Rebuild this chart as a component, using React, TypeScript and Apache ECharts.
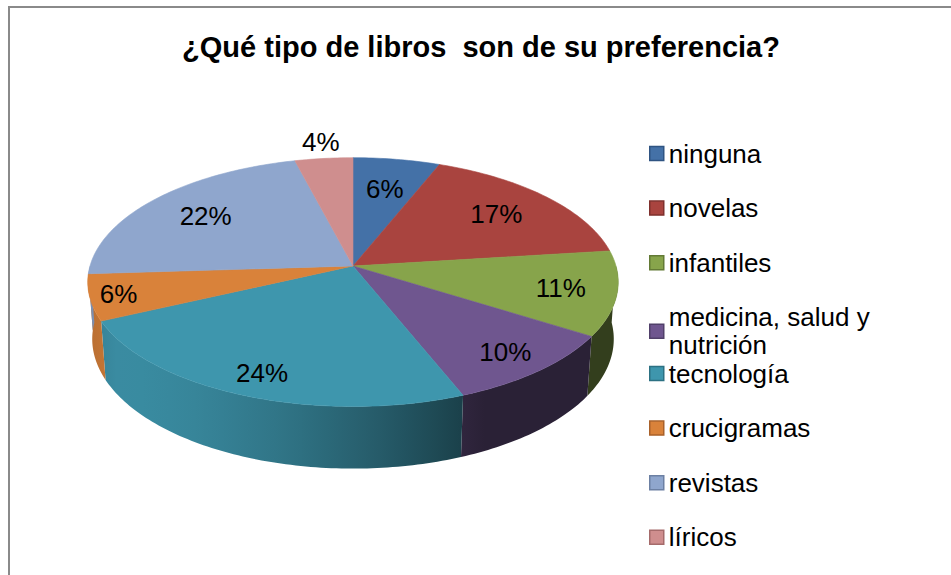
import React, { useEffect, useRef } from 'react';
import * as echarts from 'echarts';

const titleText = '¿Qué tipo de libros  son de su preferencia?';
const categories = [
  'ninguna',
  'novelas',
  'infantiles',
  'medicina, salud y nutrición',
  'tecnología',
  'crucigramas',
  'revistas',
  'líricos',
];
const percentages = [6, 17, 11, 10, 24, 6, 22, 4];
const colors = ['#4471a7', '#a9443f', '#87a44b', '#6f568f', '#3e96ad', '#d9823a', '#8fa6cd', '#cf8e8e'];
const borderColors = ['#2f5482', '#7f302d', '#637a35', '#51406a', '#2c7183', '#a9612a', '#6c80a3', '#a56b6b'];

// 3D projection settings (layout/styling)
const CX = 353;
const CY = 266;
const R = 263;
const SINB = 0.465;
const COSB = 0.885;
const DIST = 1800;
const H = 65;
const FONT = '"Liberation Sans", Arial, sans-serif';

function project(thetaDeg: number, r: number, drop: number): number[] {
  const t = (thetaDeg * Math.PI) / 180;
  const X = r * Math.sin(t);
  const Z = r * Math.cos(t);
  const up = Z * SINB - drop * COSB;
  const depth = Z * COSB + drop * SINB;
  const s = DIST / (DIST + depth);
  return [CX + X * s, CY - up * s];
}

function shade(hex: string, f: number): string {
  const n = parseInt(hex.slice(1), 16);
  const r = Math.round(((n >> 16) & 255) * f);
  const g = Math.round(((n >> 8) & 255) * f);
  const b = Math.round((n & 255) * f);
  return `rgb(${r},${g},${b})`;
}

function lightFactor(theta: number): number {
  const d = ((theta - 240) * Math.PI) / 180;
  return 0.38 + 0.55 * Math.max(0, Math.cos(d));
}

function wrapName(name: string): string {
  if (name.length <= 18) return name;
  const idx = name.lastIndexOf(' ', 18);
  return idx > 0 ? name.slice(0, idx) + '\n' + name.slice(idx + 1) : name;
}

export default function App() {
  const ref = useRef<HTMLDivElement>(null);
  useEffect(() => {
    if (!ref.current) return;
    const chart = echarts.init(ref.current, undefined, { renderer: 'svg' });
    const total = percentages.reduce((a, b) => a + b, 0);
    const starts: number[] = [];
    let acc = 0;
    percentages.forEach((v) => {
      starts.push((acc / total) * 360);
      acc += v;
    });

    const wallSeries = categories.map((name, i) => ({
      type: 'custom',
      name,
      coordinateSystem: 'none',
      silent: true,
      itemStyle: { color: colors[i] },
      data: [percentages[i]],
      renderItem: (_params: any, api: any) => {
        const v = api.value(0);
        const a0 = Math.max(starts[i], 90);
        const a1 = Math.min(starts[i] + (v / total) * 360, 270);
        if (a1 <= a0) return { type: 'group', children: [] };
        const top: number[][] = [];
        const bottom: number[][] = [];
        const steps = Math.max(2, Math.ceil(a1 - a0));
        for (let k = 0; k <= steps; k++) {
          const a = a0 + ((a1 - a0) * k) / steps;
          top.push(project(a, R, 0));
          bottom.push(project(a, R, H));
        }
        const points = top.concat(bottom.reverse());
        const stops: any[] = [];
        for (let k = 0; k <= 20; k++) {
          const u = -1 + k * 0.1;
          const th = 180 - (Math.asin(Math.max(-1, Math.min(1, u))) * 180) / Math.PI;
          stops.push({ offset: k / 20, color: shade(colors[i], lightFactor(th)) });
        }
        return {
          type: 'polygon',
          shape: { points },
          style: {
            fill: {
              type: 'linear',
              x: CX - R,
              y: 0,
              x2: CX + R,
              y2: 0,
              global: true,
              colorStops: stops,
            },
            stroke: null,
          },
        };
      },
    }));

    const topSeries = categories.map((name, i) => ({
      type: 'custom',
      name,
      coordinateSystem: 'none',
      silent: true,
      itemStyle: { color: colors[i] },
      data: [percentages[i]],
      renderItem: (_params: any, api: any) => {
        const v = api.value(0);
        const a0 = starts[i];
        const a1 = a0 + (v / total) * 360;
        const pts: number[][] = [[CX, CY]];
        const steps = Math.max(2, Math.ceil(a1 - a0));
        for (let k = 0; k <= steps; k++) {
          pts.push(project(a0 + ((a1 - a0) * k) / steps, R, 0));
        }
        const mid = (a0 + a1) / 2;
        let lp: number[];
        if (v < 5) {
          lp = project(mid, R, 0);
          lp = [lp[0] - 3, lp[1] - 16];
        } else {
          const t = (mid * Math.PI) / 180;
          const c = Math.cos(t);
          const sn = Math.sin(t);
          const kr = 0.7 + (0.15 * (1 - c)) / 2 + (sn < -0.9 ? 0.1 : 0);
          lp = project(mid, R * kr, 0);
        }
        return {
          type: 'group',
          children: [
            {
              type: 'polygon',
              shape: { points: pts },
              style: { fill: colors[i], stroke: colors[i], lineWidth: 0.6 },
            },
            {
              type: 'text',
              x: lp[0],
              y: lp[1],
              z2: 10,
              style: {
                text: `${v}%`,
                font: `26px ${FONT}`,
                fill: '#000',
                align: 'center',
                verticalAlign: 'middle',
                textAlign: 'center',
                textVerticalAlign: 'middle',
              },
            },
          ],
        };
      },
    }));

    const legendBase = {
      orient: 'vertical',
      left: 644,
      icon: 'rect',
      itemWidth: 14,
      itemHeight: 14,
      itemGap: 26.6,
      selectedMode: false,
      formatter: (name: string) => wrapName(name),
      textStyle: {
        fontSize: 26,
        fontFamily: FONT,
        color: '#000',
        lineHeight: 28,
      },
    };
    const legendItem = (i: number) => ({
      name: categories[i],
      itemStyle: { color: colors[i], borderColor: borderColors[i], borderWidth: 1.5 },
    });

    chart.setOption({
      animation: false,
      backgroundColor: '#ffffff',
      graphic: [
        {
          type: 'rect',
          shape: { x: 9, y: 7, width: 1000, height: 700 },
          style: { fill: 'none', stroke: '#8a8a8a', lineWidth: 2 },
          silent: true,
        },
        {
          type: 'text',
          x: 481,
          y: 46.5,
          style: {
            text: titleText,
            font: `bold 29px ${FONT}`,
            fill: '#000',
            align: 'center',
            verticalAlign: 'middle',
            textAlign: 'center',
            textVerticalAlign: 'middle',
          },
        },
      ],
      legend: [
        { ...legendBase, top: 134.5, data: [0, 1, 2, 3].map(legendItem) },
        { ...legendBase, top: 354.5, data: [4, 5, 6, 7].map(legendItem) },
      ],
      series: [...wallSeries, ...topSeries],
    } as any);
    return () => chart.dispose();
  }, []);
  return (
    <div
      ref={ref}
      style={{ position: 'absolute', left: 0, top: 0, width: 951, height: 575 }}
    />
  );
}
